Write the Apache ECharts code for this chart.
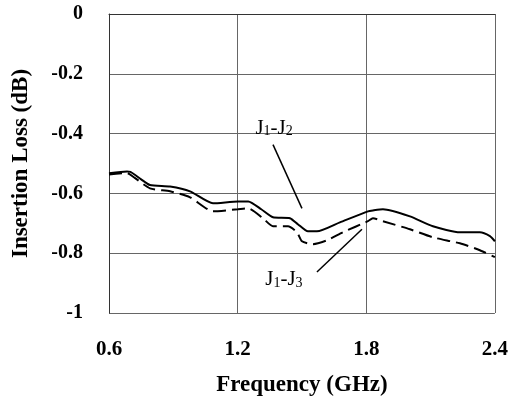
<!DOCTYPE html>
<html><head><meta charset="utf-8">
<script src="https://cdn.jsdelivr.net/npm/echarts@6/dist/echarts.min.js"></script>
<style>html,body{margin:0;padding:0;background:#fff}#c{width:511px;height:402px}</style>
</head><body><div id="c"></div>
<script>
var xTicks = [0.6, 1.2, 1.8, 2.4];
var freqJ12 = [0.6, 0.684, 0.70, 0.75, 0.791, 0.885, 0.978, 1.085, 1.202, 1.25, 1.31, 1.365, 1.444, 1.481, 1.528, 1.570, 1.677, 1.808, 1.831, 1.878, 2.004, 2.111, 2.237, 2.330, 2.377, 2.4];
var lossJ12 = [-0.533, -0.527, -0.528, -0.553, -0.572, -0.577, -0.593, -0.633, -0.627, -0.627, -0.653, -0.68, -0.683, -0.703, -0.727, -0.727, -0.697, -0.66, -0.657, -0.653, -0.677, -0.71, -0.73, -0.73, -0.743, -0.76];
var freqJ13 = [0.6, 0.684, 0.72, 0.791, 0.885, 0.978, 1.085, 1.202, 1.25, 1.318, 1.365, 1.435, 1.477, 1.500, 1.551, 1.617, 1.691, 1.808, 1.831, 1.878, 2.004, 2.111, 2.237, 2.330, 2.4];
var lossJ13 = [-0.537, -0.532, -0.548, -0.583, -0.593, -0.613, -0.66, -0.653, -0.65, -0.683, -0.71, -0.71, -0.73, -0.76, -0.77, -0.757, -0.73, -0.693, -0.683, -0.693, -0.72, -0.747, -0.767, -0.79, -0.813];
var seriesNames = ['J1-J2', 'J1-J3'];
// annotation leader lines, data coords
var leaderJ12 = [[1.365, -0.437], [1.500, -0.65]];
var leaderJ13 = [[1.570, -0.863], [1.780, -0.72]];
var labelJ12 = [1.37, -0.377];
var labelJ13 = [1.416, -0.883];

function pairs(xs, ys) { return xs.map(function (x, i) { return [x, ys[i]]; }); }
var FONT = '"Liberation Serif", "Times New Roman", serif';
var chart = echarts.init(document.getElementById('c'), null, { renderer: 'canvas' });
var option = {
  animation: false,
  backgroundColor: '#fff',
  grid: { left: 109, right: 16, top: 14, bottom: 88, show: false },
  xAxis: {
    type: 'value', min: 0.6, max: 2.4, interval: 0.6,
    name: 'Frequency (GHz)', nameLocation: 'middle', nameGap: 61,
    nameTextStyle: { fontFamily: FONT, fontWeight: 'bold', fontSize: 23, color: '#000' },
    axisLine: { show: true, lineStyle: { color: '#333', width: 1 } },
    axisTick: { show: false },
    axisLabel: { margin: 26, fontFamily: FONT, fontWeight: 'bold', fontSize: 21, color: '#000',
      formatter: function (v) { return (Math.round(v * 10) / 10).toFixed(1); } },
    splitLine: { show: true, lineStyle: { color: '#666', width: 1 } }
  },
  yAxis: {
    type: 'value', min: -1, max: 0, interval: 0.2,
    name: 'Insertion Loss (dB)', nameLocation: 'middle', nameGap: 76,
    nameTextStyle: { fontFamily: FONT, fontWeight: 'bold', fontSize: 23, color: '#000' },
    axisLine: { show: true, onZero: false, lineStyle: { color: '#333', width: 1 } },
    axisTick: { show: false },
    axisLabel: { margin: 26, fontFamily: FONT, fontWeight: 'bold', fontSize: 20, color: '#000', padding: [5, 0, 0, 0],
      formatter: function (v) { var r = Math.round(v * 10) / 10; return r === 0 ? '0' : (r === -1 ? '-1' : String(r)); } },
    splitLine: { show: true, lineStyle: { color: '#666', width: 1 } }
  },
  series: [
    { name: seriesNames[0], type: 'line', data: pairs(freqJ12, lossJ12), showSymbol: false, smooth: 0.2,
      lineStyle: { color: '#000', width: 2 },
      markLine: { silent: true, symbol: 'none', label: { show: false },
        lineStyle: { color: '#000', width: 1.5, type: 'solid' },
        data: [[{ coord: leaderJ12[0] }, { coord: leaderJ12[1] }]] } },
    { name: seriesNames[1], type: 'line', data: pairs(freqJ13, lossJ13), showSymbol: false, smooth: 0.2,
      lineStyle: { color: '#000', width: 2, type: [13, 6] },
      markLine: { silent: true, symbol: 'none', label: { show: false },
        lineStyle: { color: '#000', width: 1.5, type: 'solid' },
        data: [[{ coord: leaderJ13[0] }, { coord: leaderJ13[1] }]] } }
  ]
};
chart.setOption(option);

function richLabel(a, b) {
  return '{n|J}{s|' + a + '}{n|-J}{s|' + b + '}';
}
var rich = {
  n: { fontFamily: FONT, fontSize: 21, color: '#000', lineHeight: 24, verticalAlign: 'bottom' },
  s: { fontFamily: FONT, fontSize: 14, color: '#000', lineHeight: 6, verticalAlign: 'bottom' }
};
var p1 = chart.convertToPixel({ gridIndex: 0 }, labelJ12);
var p2 = chart.convertToPixel({ gridIndex: 0 }, labelJ13);
chart.setOption({
  graphic: [
    { type: 'text', x: p1[0], y: p1[1], silent: true,
      style: { text: richLabel(1, 2), rich: rich, align: 'center', verticalAlign: 'middle' } },
    { type: 'text', x: p2[0], y: p2[1], silent: true,
      style: { text: richLabel(1, 3), rich: rich, align: 'center', verticalAlign: 'middle' } }
  ]
});
</script></body></html>
